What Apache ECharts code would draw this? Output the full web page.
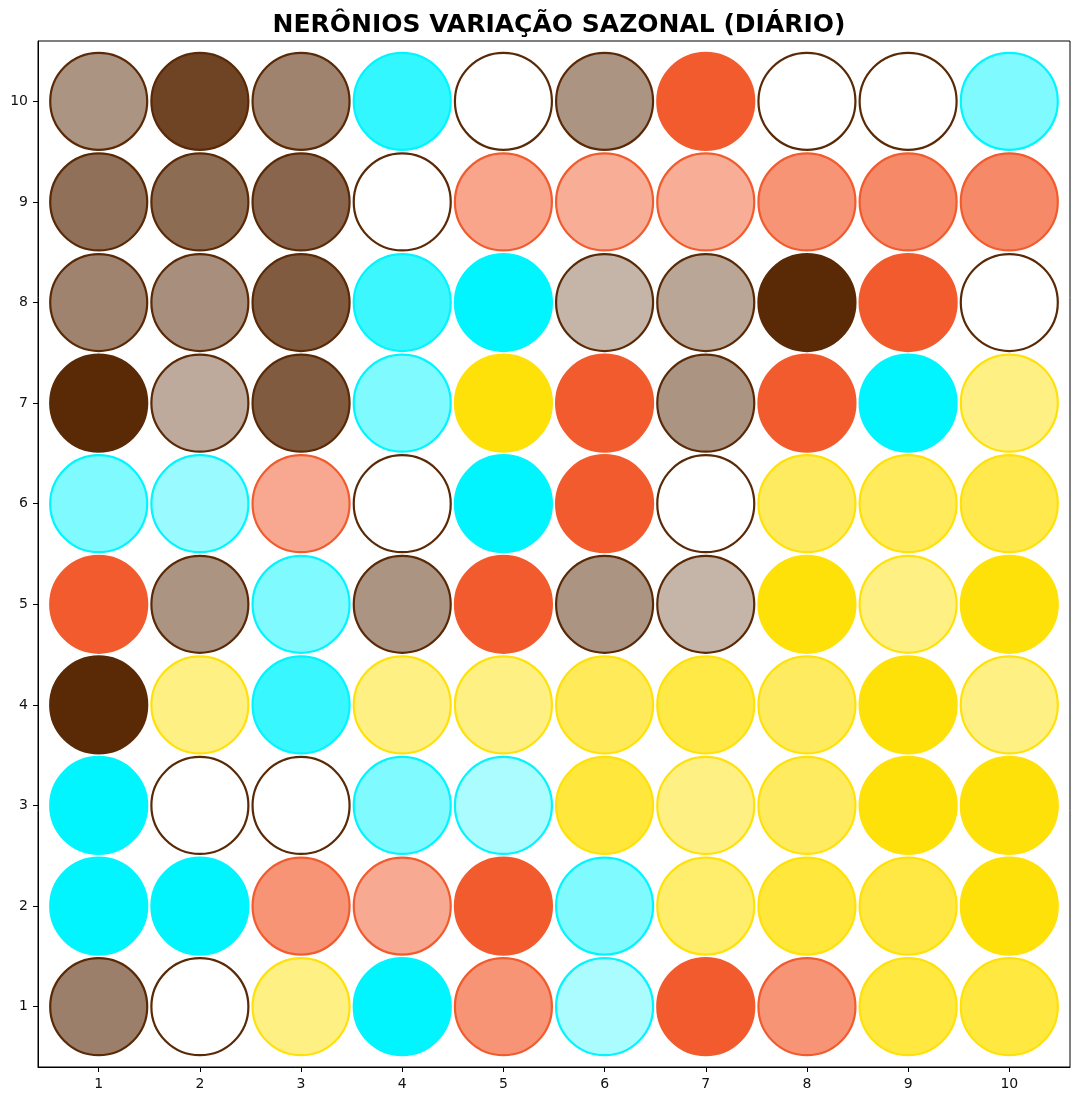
<!DOCTYPE html>
<html><head><meta charset="utf-8">
<script src="https://cdn.jsdelivr.net/npm/echarts@6/dist/echarts.min.js"></script>
<style>html,body{margin:0;padding:0;background:#fff}#c{width:1079px;height:1101px}</style>
</head><body><div id="c"></div>
<script>
// Rows listed from y=10 (top) down to y=1 (bottom); columns x=1..10
const yValues = [10, 9, 8, 7, 6, 5, 4, 3, 2, 1];
const xValues = [1, 2, 3, 4, 5, 6, 7, 8, 9, 10];
const tickValues = [1, 2, 3, 4, 5, 6, 7, 8, 9, 10];
// B = brown, C = cyan, O = orange-red, Y = yellow
const familyRows = [
  ['B','B','B','C','B','B','O','B','B','C'],
  ['B','B','B','B','O','O','O','O','O','O'],
  ['B','B','B','C','C','B','B','B','O','B'],
  ['B','B','B','C','Y','O','B','O','C','Y'],
  ['C','C','O','B','C','O','B','Y','Y','Y'],
  ['O','B','C','B','O','B','B','Y','Y','Y'],
  ['B','Y','C','Y','Y','Y','Y','Y','Y','Y'],
  ['C','B','B','C','C','Y','Y','Y','Y','Y'],
  ['C','C','O','O','O','C','Y','Y','Y','Y'],
  ['B','B','Y','C','O','C','O','O','Y','Y']
];
const alphaRows = [
  [0.50,0.88,0.58,0.80,0.00,0.50,1.00,0.00,0.00,0.50],
  [0.67,0.69,0.72,0.00,0.55,0.50,0.50,0.65,0.72,0.72],
  [0.58,0.53,0.77,0.76,1.00,0.35,0.42,1.00,1.00,0.00],
  [1.00,0.40,0.77,0.50,1.00,1.00,0.50,1.00,1.00,0.50],
  [0.50,0.40,0.53,0.00,1.00,1.00,0.00,0.65,0.67,0.73],
  [1.00,0.50,0.50,0.50,1.00,0.50,0.35,1.00,0.50,1.00],
  [1.00,0.50,0.78,0.50,0.50,0.68,0.75,0.65,1.00,0.50],
  [1.00,0.00,0.00,0.50,0.33,0.80,0.50,0.65,1.00,1.00],
  [1.00,1.00,0.65,0.52,1.00,0.50,0.60,0.80,0.77,1.00],
  [0.60,0.00,0.50,1.00,0.65,0.33,1.00,0.65,0.78,0.78]
];
const familyColors = { B: [90, 42, 7], C: [0, 245, 255], O: [242, 91, 45], Y: [255, 225, 10] };

const data = [];
yValues.forEach((y, r) => {
  xValues.forEach((x, c) => {
    const rgb = familyColors[familyRows[r][c]];
    const a = alphaRows[r][c];
    data.push({
      value: [x, y],
      itemStyle: {
        color: `rgba(${rgb[0]},${rgb[1]},${rgb[2]},${a})`,
        borderColor: `rgb(${rgb[0]},${rgb[1]},${rgb[2]})`,
        borderWidth: 2.2,
        opacity: 1
      }
    });
  });
});

const chart = echarts.init(document.getElementById('c'), null, { renderer: 'canvas' });
const axisCommon = {
  type: 'value', min: 0.4, max: 10.6,
  axisLine: { show: true, onZero: false, lineStyle: { color: '#000', width: 1 } },
  axisTick: { show: true, inside: false, length: 5, lineStyle: { color: '#000' }, customValues: tickValues },
  axisLabel: { show: true, color: '#111', fontSize: 14, fontFamily: 'DejaVu Sans', margin: 10, customValues: tickValues, formatter: v => String(v) },
  splitLine: { show: false }
};
chart.setOption({
  animation: false,
  backgroundColor: '#fff',
  title: {
    text: 'NERÔNIOS VARIAÇÃO SAZONAL (DIÁRIO)',
    left: 554, top: 8, textAlign: 'center',
    textStyle: { fontFamily: 'DejaVu Sans', fontWeight: 'bold', fontSize: 25, color: '#000' }
  },
  grid: { left: 38, right: 9, top: 41, bottom: 34, show: true, borderColor: '#000', borderWidth: 1, backgroundColor: 'transparent' },
  xAxis: axisCommon,
  yAxis: axisCommon,
  series: [{
    type: 'scatter',
    symbol: 'circle',
    symbolSize: 97,
    itemStyle: { opacity: 1 },
    data: data
  }]
});
</script></body></html>
